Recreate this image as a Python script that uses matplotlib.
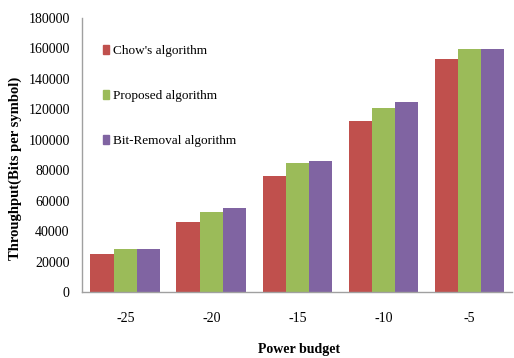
import matplotlib
matplotlib.use('Agg')
import matplotlib.pyplot as plt
import matplotlib.patches as mpatches
import numpy as np

plt.rcParams['font.family'] = ['Liberation Serif', 'DejaVu Serif']

# Dados
power_budget = ['-25', '-20', '-15', '-10', '-5']
chow = [25000, 46000, 76000, 112000, 153000]
proposed = [28000, 52500, 84500, 121000, 159500]
bit_removal = [28000, 55000, 86000, 124500, 159500]

series_names = ["Chow's algorithm", 'Proposed algorithm', 'Bit-Removal algorithm']
COLORS = ['#C0504D', '#9BBB59', '#8064A2']

fig = plt.figure(figsize=(5.14, 3.58), dpi=100)
ax = fig.add_axes([0.16, 0.184, 0.837, 0.766])

x = np.arange(len(power_budget))
w = 0.27
for i, (vals, c) in enumerate(zip([chow, proposed, bit_removal], COLORS)):
    ax.bar(x + (i - 1) * w, vals, width=w, color=c, edgecolor='none')

ax.set_xlim(-0.5, len(power_budget) - 0.5)
ax.set_ylim(0, 180000)
ax.set_yticks(np.arange(0, 180001, 20000))
ax.set_xticks(x)
ax.set_xticklabels(power_budget)
ax.tick_params(axis='both', labelsize=10, length=0)
ax.tick_params(axis='x', pad=14)
ax.tick_params(axis='y', pad=9)

for s in ['top', 'right']:
    ax.spines[s].set_visible(False)
for s in ['left', 'bottom']:
    ax.spines[s].set_color('#A0A0A0')
    ax.spines[s].set_linewidth(1.0)

ax.set_ylabel('Throughput(Bits per symbol)', fontsize=10.5, fontweight='bold')
ax.yaxis.set_label_coords(-0.14, 0.45)
ax.set_xlabel('Power budget', fontsize=10, fontweight='bold')
ax.xaxis.set_label_coords(0.505, -0.185)

handles = [mpatches.Patch(color=c, label=n) for c, n in zip(COLORS, series_names)]
ax.legend(handles=handles, loc='upper left', bbox_to_anchor=(0.035, 0.92),
          frameon=False, fontsize=9.5, handlelength=0.5, handleheight=0.6,
          handletextpad=0.3, labelspacing=2.5, borderaxespad=0)

fig.savefig('out.png', dpi=100)
